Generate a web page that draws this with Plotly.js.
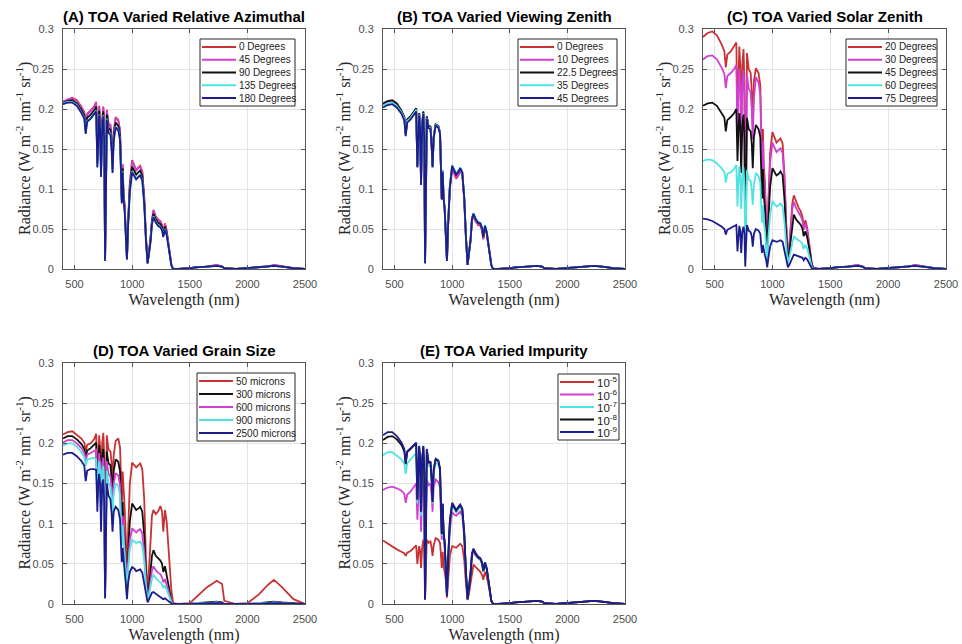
<!DOCTYPE html>
<html>
<head>
<meta charset="utf-8">
<script src="https://cdn.plot.ly/plotly-3.0.1.min.js"></script>
<style>html,body{margin:0;padding:0;background:#fff;}#chart{width:962px;height:644px;}</style>
</head>
<body>
<div id="chart"></div>
<script>
// Wavelength grid (nm)
const wl = [400,440,480,520,560, 585,597,610,640,670, 688,698,706,714,722, 730,740,750,758,765,
 772,780,795,812,822, 830,840,857,880,895, 903,910,918,925,935, 945,955,965,980,1000,
 1020,1035,1055,1070,1088, 1105,1120,1134,1145,1160, 1172,1185,1205,1225,1245, 1260,1270,1285,1300,1320,
 1340,1355,1400,1500,1550, 1650,1735,1780,1800,1900, 2000,2100,2180,2230,2300, 2400,2500];

const xTicks = [500,1000,1500,2000,2500];

// (A) Relative azimuth
const namesA = ['0 Degrees','45 Degrees','90 Degrees','135 Degrees','180 Degrees'];
const aDeg0 = [.209,.212,.214,.211,.203, .196,.178,.194,.198,.203, .209,.136,.180,.204,.185, .124,.185,.203,.170,.011,
 .090,.199,.182,.180,.160, .130,.172,.190,.186,.174, .130,.090,.131,.095,.080, .053,.013,.060,.107,.136,
 .128,.124,.127,.129,.122, .090,.040,.008,.020,.040, .064,.074,.066,.062,.060, .055,.046,.057,.048,.028,
 .006,.000,.000,.001,.002, .003,.005,.003,.001,.000, .001,.002,.003,.005,.003, .001,.000];
const aDeg45 = [.209,.212,.213,.210,.202, .195,.177,.193,.197,.202, .208,.135,.179,.203,.184, .123,.184,.202,.169,.011,
 .089,.198,.181,.179,.159, .129,.171,.189,.185,.173, .129,.089,.130,.094,.079, .052,.013,.059,.106,.135,
 .127,.123,.126,.128,.121, .089,.039,.008,.020,.039, .063,.073,.065,.061,.059, .054,.045,.056,.047,.027,
 .006,.000,.000,.001,.002, .003,.005,.003,.001,.000, .001,.002,.003,.005,.003, .001,.000];
const aDeg90 = [.208,.210,.211,.207,.199, .192,.174,.189,.193,.198, .203,.132,.175,.198,.180, .120,.180,.197,.165,.010,
 .086,.193,.176,.174,.154, .125,.166,.183,.179,.167, .125,.086,.126,.091,.076, .050,.012,.057,.102,.128,
 .121,.118,.121,.123,.116, .085,.037,.007,.019,.037, .060,.069,.062,.058,.056, .052,.043,.053,.045,.026,
 .005,.000,.000,.001,.002, .003,.004,.003,.001,.000, .001,.002,.003,.004,.003, .001,.000];
const aDeg135 = [.207,.209,.209,.205,.196, .189,.170,.185,.189,.194, .198,.128,.171,.193,.175, .116,.175,.192,.160,.010,
 .083,.188,.171,.169,.150, .121,.161,.178,.174,.162, .121,.083,.122,.088,.073, .048,.012,.055,.098,.122,
 .116,.113,.116,.118,.111, .082,.035,.007,.018,.035, .057,.066,.059,.055,.053, .049,.041,.050,.043,.025,
 .005,.000,.000,.001,.002, .003,.004,.003,.001,.000, .001,.002,.003,.004,.003, .001,.000];
const aDeg180 = [.206,.208,.208,.204,.195, .188,.169,.184,.188,.193, .197,.127,.170,.192,.174, .115,.174,.191,.159,.010,
 .082,.187,.170,.168,.149, .120,.160,.177,.173,.161, .120,.082,.121,.087,.072, .047,.012,.054,.097,.121,
 .115,.112,.115,.117,.110, .081,.035,.007,.018,.034, .056,.065,.058,.054,.052, .048,.040,.049,.042,.024,
 .005,.000,.000,.001,.002, .003,.004,.003,.001,.000, .001,.002,.003,.004,.003, .001,.000];

// (B) Viewing zenith
const namesB = ['0 Degrees','10 Degrees','22.5 Degrees','35 Degrees','45 Degrees'];
const bDeg0 = [.206,.209,.210,.206,.197, .189,.168,.186,.190,.196, .200,.128,.172,.194,.178, .106,.180,.196,.165,.008,
 .085,.190,.178,.177,.155, .128,.165,.180,.178,.170, .125,.087,.122,.090,.075, .046,.010,.055,.100,.125,
 .117,.113,.117,.122,.118, .086,.038,.005,.018,.035, .060,.066,.059,.055,.054, .048,.037,.051,.044,.025,
 .005,.000,.000,.001,.002, .003,.004,.003,.001,.000, .001,.002,.003,.004,.003, .001,.000];
const bDeg10 = [.206,.209,.210,.206,.197, .189,.168,.186,.190,.196, .200,.128,.172,.194,.178, .106,.180,.196,.165,.008,
 .085,.190,.178,.177,.155, .128,.165,.180,.178,.170, .125,.087,.122,.090,.075, .046,.010,.055,.101,.126,
 .118,.114,.118,.123,.119, .087,.038,.005,.018,.035, .061,.067,.060,.056,.055, .049,.038,.052,.045,.025,
 .005,.000,.000,.001,.002, .003,.004,.003,.001,.000, .001,.002,.003,.004,.003, .001,.000];
const bDeg22 = [.207,.210,.211,.207,.198, .190,.169,.187,.191,.197, .201,.129,.173,.195,.179, .107,.181,.197,.166,.008,
 .086,.191,.179,.178,.156, .129,.166,.181,.179,.171, .126,.088,.123,.091,.076, .047,.010,.056,.103,.129,
 .122,.118,.122,.126,.121, .089,.039,.005,.019,.037, .063,.069,.062,.058,.057, .051,.040,.054,.046,.026,
 .005,.000,.000,.001,.002, .003,.004,.003,.001,.000, .001,.002,.003,.004,.003, .001,.000];
const bDeg35 = [.204,.207,.208,.204,.196, .188,.167,.185,.189,.195, .199,.128,.171,.193,.177, .106,.179,.195,.164,.008,
 .085,.189,.177,.176,.155, .128,.165,.180,.178,.170, .125,.087,.122,.090,.075, .046,.010,.056,.103,.130,
 .123,.119,.123,.127,.122, .090,.040,.005,.019,.037, .064,.070,.062,.059,.058, .052,.041,.055,.047,.026,
 .005,.000,.000,.001,.002, .003,.004,.003,.001,.000, .001,.002,.003,.004,.003, .001,.000];
const bDeg45 = [.202,.205,.206,.202,.194, .186,.166,.183,.187,.193, .197,.127,.170,.192,.176, .105,.178,.194,.163,.007,
 .084,.188,.176,.175,.154, .127,.164,.179,.177,.169, .124,.087,.121,.090,.075, .046,.010,.055,.102,.129,
 .122,.118,.122,.126,.121, .089,.040,.005,.019,.037, .063,.069,.062,.058,.057, .051,.040,.054,.046,.026,
 .005,.000,.000,.001,.002, .003,.004,.003,.001,.000, .001,.002,.003,.004,.003, .001,.000];

// (C) Solar zenith
const namesC = ['20 Degrees','30 Degrees','45 Degrees','60 Degrees','75 Degrees'];
const cDeg20 = [.290,.295,.297,.292,.281, .272,.252,.268,.272,.278, .283,.190,.245,.278,.255, .175,.255,.275,.235,.030,
 .130,.270,.250,.245,.220, .180,.235,.251,.245,.230, .175,.125,.175,.130,.110, .075,.020,.085,.145,.171,
 .163,.158,.161,.163,.157, .115,.055,.012,.028,.055, .082,.092,.083,.077,.072, .065,.053,.061,.052,.030,
 .007,.001,.000,.001,.002, .003,.005,.003,.001,.000, .001,.002,.003,.005,.003, .001,.000];
const cDeg30 = [.262,.266,.267,.262,.252, .244,.226,.241,.245,.250, .255,.170,.220,.250,.230, .157,.230,.248,.212,.026,
 .117,.243,.225,.221,.198, .162,.212,.240,.233,.218, .160,.113,.160,.118,.100, .068,.018,.077,.133,.158,
 .151,.146,.149,.151,.145, .106,.051,.011,.026,.051, .075,.084,.076,.071,.066, .060,.049,.057,.048,.028,
 .006,.001,.000,.001,.002, .003,.005,.003,.001,.000, .001,.002,.003,.005,.003, .001,.000];
const cDeg45 = [.204,.207,.208,.204,.195, .189,.172,.186,.190,.195, .200,.135,.172,.195,.178, .120,.178,.193,.165,.018,
 .090,.189,.175,.172,.155, .126,.165,.180,.175,.165, .125,.088,.125,.092,.078, .053,.014,.060,.103,.126,
 .121,.117,.119,.122,.117, .085,.040,.009,.020,.040, .058,.068,.062,.058,.055, .050,.041,.047,.040,.024,
 .005,.001,.000,.001,.002, .003,.004,.003,.001,.000, .001,.002,.003,.004,.003, .001,.000];
const cDeg60 = [.135,.137,.136,.132,.126, .121,.108,.119,.121,.125, .130,.078,.110,.128,.115, .075,.116,.127,.105,.012,
 .060,.124,.112,.110,.098, .080,.105,.120,.116,.108, .080,.058,.080,.060,.050, .034,.009,.040,.068,.085,
 .081,.078,.080,.082,.078, .057,.027,.006,.014,.025, .036,.041,.038,.036,.034, .031,.025,.030,.026,.015,
 .003,.000,.000,.001,.002, .003,.004,.003,.001,.000, .001,.002,.003,.004,.003, .001,.000];
const cDeg75 = [.063,.062,.060,.057,.053, .050,.043,.049,.051,.053, .055,.022,.045,.054,.048, .020,.046,.053,.045,.003,
 .030,.055,.048,.046,.040, .028,.044,.050,.048,.044, .030,.020,.030,.022,.017, .012,.002,.014,.028,.036,
 .035,.034,.035,.036,.034, .023,.010,.002,.005,.010, .015,.018,.017,.016,.015, .014,.011,.014,.012,.006,
 .001,.000,.000,.001,.002, .003,.004,.003,.001,.000, .001,.002,.003,.004,.003, .001,.000];

// (D) Grain size
const namesD = ['50 microns','300 microns','600 microns','900 microns','2500 microns'];
const dMic50 = [.211,.214,.215,.211,.206, .201,.190,.198,.200,.205, .212,.150,.190,.210,.195, .140,.200,.213,.180,.012,
 .100,.210,.192,.190,.175, .150,.185,.203,.206,.195, .160,.120,.165,.135,.120, .085,.025,.090,.150,.176,
 .172,.170,.173,.175,.168, .130,.055,.012,.040,.075, .110,.117,.112,.115,.122, .115,.090,.117,.102,.060,
 .018,.001,.000,.001,.008, .021,.029,.025,.004,.000, .001,.012,.024,.030,.021, .006,.000];
const dMic300 = [.206,.209,.209,.205,.199, .193,.183,.191,.194,.198, .201,.135,.180,.198,.184, .120,.185,.193,.165,.010,
 .090,.190,.175,.173,.155, .128,.165,.180,.177,.165, .125,.090,.127,.095,.080, .055,.014,.060,.103,.125,
 .120,.117,.119,.121,.115, .085,.035,.007,.018,.040, .060,.067,.060,.057,.054, .050,.040,.047,.037,.020,
 .004,.000,.000,.000,.001, .002,.003,.002,.000,.000, .000,.001,.002,.003,.002, .001,.000];
const dMic600 = [.201,.204,.204,.200,.194, .188,.178,.186,.188,.191, .192,.130,.172,.188,.175, .115,.175,.182,.155,.009,
 .085,.178,.162,.158,.142, .118,.150,.163,.160,.148, .110,.080,.110,.082,.068, .046,.012,.050,.080,.094,
 .091,.089,.092,.093,.088, .064,.027,.005,.013,.028, .042,.047,.042,.039,.037, .033,.027,.031,.024,.013,
 .003,.000,.000,.000,.001, .001,.002,.001,.000,.000, .000,.001,.001,.002,.001, .000,.000];
const dMic900 = [.197,.200,.200,.196,.189, .183,.172,.180,.181,.182, .180,.125,.162,.178,.166, .110,.165,.172,.145,.009,
 .080,.166,.150,.145,.130, .108,.138,.150,.147,.135, .100,.072,.098,.074,.060, .040,.010,.043,.068,.080,
 .078,.076,.077,.078,.073, .053,.022,.004,.010,.022, .032,.036,.032,.029,.027, .024,.020,.023,.018,.010,
 .002,.000,.000,.000,.001, .001,.002,.001,.000,.000, .000,.001,.001,.002,.001, .000,.000];
const dMic2500 = [.186,.188,.188,.184,.178, .172,.153,.166,.168,.168, .167,.115,.150,.162,.150, .090,.150,.155,.125,.007,
 .070,.150,.135,.130,.112, .090,.115,.121,.117,.105, .075,.052,.070,.052,.040, .026,.006,.026,.040,.046,
 .044,.041,.042,.043,.039, .026,.010,.002,.005,.010, .014,.015,.013,.011,.009, .008,.006,.007,.005,.003,
 .001,.000,.000,.000,.000, .001,.001,.001,.000,.000, .000,.000,.001,.001,.001, .000,.000];

// (E) Impurity
const namesE = ['10<sup>-5</sup>','10<sup>-6</sup>','10<sup>-7</sup>','10<sup>-8</sup>','10<sup>-9</sup>'];
const eImp5 = [.079,.075,.071,.068,.065, .063,.060,.064,.066,.070, .073,.050,.065,.072,.066, .045,.070,.080,.068,.005,
 .045,.080,.076,.078,.070, .060,.073,.082,.080,.076, .060,.045,.065,.048,.040, .030,.008,.035,.060,.072,
 .071,.070,.073,.075,.072, .055,.025,.005,.012,.028, .042,.049,.046,.043,.040, .036,.030,.040,.034,.020,
 .004,.000,.000,.001,.002, .003,.004,.003,.001,.000, .001,.002,.003,.004,.003, .001,.000];
const eImp6 = [.142,.145,.146,.144,.141, .137,.126,.136,.140,.146, .150,.105,.135,.150,.140, .090,.140,.152,.130,.005,
 .080,.155,.148,.150,.135, .115,.145,.155,.152,.145, .110,.080,.115,.085,.070, .048,.010,.052,.092,.115,
 .111,.110,.113,.115,.110, .083,.036,.006,.018,.038, .058,.066,.060,.057,.055, .050,.040,.050,.043,.024,
 .004,.000,.000,.001,.002, .003,.004,.003,.001,.000, .001,.002,.003,.004,.003, .001,.000];
const eImp7 = [.185,.189,.189,.185,.180, .175,.162,.175,.180,.184, .188,.125,.168,.188,.174, .110,.175,.190,.160,.006,
 .085,.186,.172,.172,.152, .125,.163,.176,.174,.165, .120,.085,.122,.090,.075, .048,.010,.054,.100,.123,
 .118,.114,.118,.121,.116, .086,.038,.006,.019,.038, .061,.067,.061,.057,.055, .050,.040,.050,.043,.024,
 .004,.000,.000,.001,.002, .003,.004,.003,.001,.000, .001,.002,.003,.004,.003, .001,.000];
const eImp8 = [.204,.208,.209,.205,.198, .190,.174,.189,.193,.197, .200,.130,.175,.196,.180, .115,.180,.196,.165,.006,
 .088,.192,.176,.176,.155, .127,.167,.180,.178,.168, .122,.087,.124,.091,.076, .049,.010,.055,.102,.125,
 .120,.116,.120,.123,.118, .088,.039,.006,.019,.038, .062,.068,.062,.058,.056, .051,.041,.051,.044,.025,
 .004,.000,.000,.001,.002, .003,.004,.003,.001,.000, .001,.002,.003,.004,.003, .001,.000];
const eImp9 = [.210,.214,.214,.209,.201, .193,.176,.190,.194,.198, .201,.130,.176,.197,.181, .116,.181,.197,.166,.006,
 .088,.193,.177,.177,.156, .128,.168,.181,.179,.169, .123,.088,.125,.092,.077, .050,.010,.056,.103,.126,
 .121,.117,.121,.124,.119, .089,.040,.006,.019,.038, .063,.069,.063,.059,.057, .052,.042,.052,.045,.026,
 .004,.000,.000,.001,.002, .003,.004,.003,.001,.000, .001,.002,.003,.004,.003, .001,.000];

// ---------- styling ----------
const RED = '#c83232', MAG = '#d03fd0', BLK = '#111111', CYN = '#4fe3e3', BLU = '#1c1c8c';
const W = 962, H = 644;
const Y_TITLE = 'Radiance (W m<sup>-2</sup> nm<sup>-1</sup> sr<sup>-1</sup>)';
const SERIF = 'Liberation Serif, Times New Roman, serif';
const SANS = 'Arial, Liberation Sans, sans-serif';

const panels = [
  {title:'(A) TOA Varied Relative Azimuthal', names:namesA, series:[aDeg0,aDeg45,aDeg90,aDeg135,aDeg180],
   colors:[RED,MAG,BLK,CYN,BLU], xd:[63,305], yd:[29,269], leg:[200,39,295,106], legFont:10},
  {title:'(B) TOA Varied Viewing Zenith', names:namesB, series:[bDeg0,bDeg10,bDeg22,bDeg35,bDeg45],
   colors:[RED,MAG,BLK,CYN,BLU], xd:[383,625], yd:[29,269], leg:[518,39,617,106], legFont:10},
  {title:'(C) TOA Varied Solar Zenith', names:namesC, series:[cDeg20,cDeg30,cDeg45,cDeg60,cDeg75],
   colors:[RED,MAG,BLK,CYN,BLU], xd:[703,946], yd:[29,269], leg:[846,39,937,106], legFont:10},
  {title:'(D) TOA Varied Grain Size', names:namesD, series:[dMic50,dMic300,dMic600,dMic900,dMic2500],
   colors:[RED,BLK,MAG,CYN,BLU], xd:[63,305], yd:[363,604], leg:[197,373,295,441], legFont:10},
  {title:'(E) TOA Varied Impurity', names:namesE, series:[eImp5,eImp6,eImp7,eImp8,eImp9],
   colors:[RED,MAG,CYN,BLK,BLU], xd:[383,625], yd:[363,604], leg:[558,374,619,440], legFont:11.5}
];

const px = v => v / W;
const py = v => 1 - v / H;

const traces = [];
const layout = {
  width: W, height: H,
  margin: {l:0, r:0, t:0, b:0},
  paper_bgcolor: '#ffffff', plot_bgcolor: '#ffffff',
  showlegend: false,
  annotations: [], shapes: []
};

panels.forEach((p, i) => {
  const s = i === 0 ? '' : String(i + 1);
  p.series.forEach((ys, j) => {
    traces.push({x: wl, y: ys, xaxis: 'x' + s, yaxis: 'y' + s, type: 'scatter', mode: 'lines',
      name: p.names[j], line: {color: p.colors[j], width: 1.8}, showlegend: false});
  });
  layout['xaxis' + s] = {
    domain: [px(p.xd[0]), px(p.xd[1])], anchor: 'y' + s,
    range: [400, 2500], tickvals: xTicks, ticks: 'inside', ticklen: 4, tickcolor: '#555',
    showline: true, linecolor: '#555', linewidth: 1, mirror: 'ticks',
    showgrid: true, gridcolor: '#e4e4e4', gridwidth: 1, zeroline: false,
    tickfont: {family: SANS, size: 11, color: '#4d4d4d'},
    ticklabelstandoff: 5,
    title: {text: 'Wavelength (nm)', font: {family: SERIF, size: 16, color: '#262626'}, standoff: 4}
  };
  layout['yaxis' + s] = {
    domain: [py(p.yd[1]), py(p.yd[0])], anchor: 'x' + s,
    range: [0, 0.3], dtick: 0.05, ticks: 'inside', ticklen: 4, tickcolor: '#555',
    showline: true, linecolor: '#555', linewidth: 1, mirror: 'ticks',
    showgrid: true, gridcolor: '#e4e4e4', gridwidth: 1, zeroline: false,
    tickfont: {family: SANS, size: 11, color: '#4d4d4d'},
    ticklabelstandoff: 6
  };
  // y-axis title (placed like the MATLAB ylabel)
  layout.annotations.push({
    text: Y_TITLE, xref: 'paper', yref: 'paper', textangle: -90,
    x: px(p.xd[0] - 39), y: py((p.yd[0] + p.yd[1]) / 2), xanchor: 'center', yanchor: 'middle',
    showarrow: false, font: {family: SERIF, size: 16, color: '#262626'}
  });
  // subplot title
  layout.annotations.push({
    text: p.title, xref: 'paper', yref: 'paper',
    x: px((p.xd[0] + p.xd[1]) / 2), y: py(p.yd[0]), xanchor: 'center', yanchor: 'bottom', yshift: 2,
    showarrow: false, font: {family: SANS, size: 15, color: '#000', weight: 'bold'}
  });
  // legend box
  const [l, t, r, b] = p.leg;
  layout.shapes.push({type: 'rect', xref: 'paper', yref: 'paper', x0: px(l), x1: px(r), y0: py(t), y1: py(b),
    line: {color: '#262626', width: 1}, fillcolor: '#ffffff', layer: 'above'});
  const step = (b - t - 16) / 4;
  p.names.forEach((nm, j) => {
    const yy = t + 8 + j * step;
    layout.shapes.push({type: 'line', xref: 'paper', yref: 'paper', x0: px(l + 2), x1: px(l + 36), y0: py(yy), y1: py(yy),
      line: {color: p.colors[j], width: 2}, layer: 'above'});
    layout.annotations.push({text: nm, xref: 'paper', yref: 'paper', x: px(l + 37), y: py(yy),
      xanchor: 'left', yanchor: 'middle', showarrow: false,
      font: {family: SANS, size: p.legFont, color: '#222'}});
  });
});

Plotly.newPlot('chart', traces, layout, {staticPlot: true, displayModeBar: false});
</script>
</body>
</html>
